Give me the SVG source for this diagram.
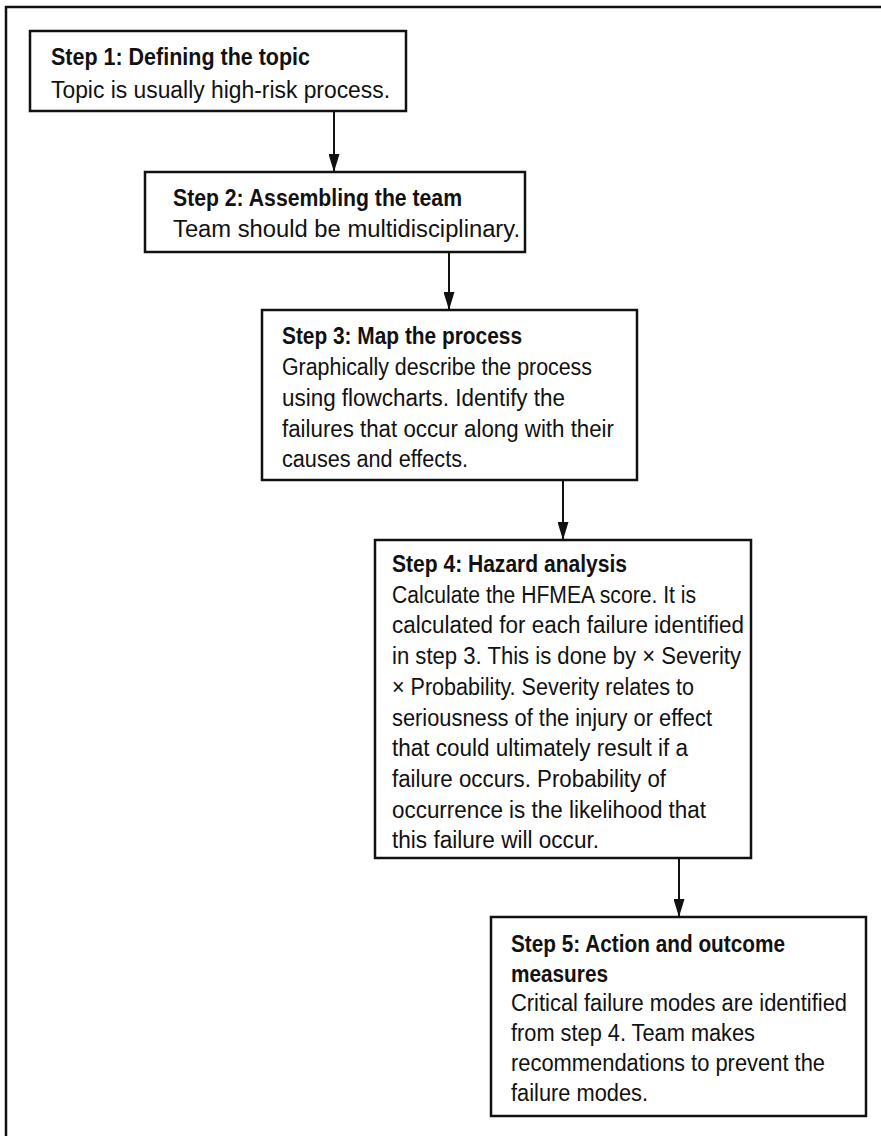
<svg xmlns="http://www.w3.org/2000/svg" width="881" height="1136" viewBox="0 0 881 1136">
<style>
.box{fill:#fff;stroke:#111;stroke-width:2.5}
.frame{fill:none;stroke:#111;stroke-width:2.5}
.t{font-family:"Liberation Sans Narrow","Liberation Sans",Arial,sans-serif;font-size:23.5px;font-weight:bold;fill:#111}
.b{font-family:"Liberation Sans Narrow","Liberation Sans",Arial,sans-serif;font-size:23.5px;fill:#111}
.conn{fill:none;stroke:#111;stroke-width:2}
</style>
<defs>
<marker id="ah" viewBox="0 0 18 11" refX="18" refY="5.5" markerWidth="18" markerHeight="11" markerUnits="userSpaceOnUse" orient="auto">
<path d="M0,0 L18,5.5 L0,11 z" fill="#111"/>
</marker>
</defs>
<rect width="881" height="1136" fill="#fff"/>
<path class="frame" d="M6,1136 L6,7 L881,7"/>
<g id="connectors">
<line class="conn" x1="334" y1="111" x2="334" y2="172" marker-end="url(#ah)"/>
<line class="conn" x1="449" y1="252" x2="449" y2="310" marker-end="url(#ah)"/>
<line class="conn" x1="563" y1="480" x2="563" y2="540" marker-end="url(#ah)"/>
<line class="conn" x1="679" y1="858" x2="679" y2="917" marker-end="url(#ah)"/>
</g>
<g id="step1">
<rect class="box" x="30" y="31" width="376" height="80"/>
<text class="t" x="51" y="65" textLength="259" lengthAdjust="spacingAndGlyphs">Step 1: Defining the topic</text>
<text class="b" x="51" y="98" textLength="339" lengthAdjust="spacingAndGlyphs">Topic is usually high-risk process.</text>
</g>
<g id="step2">
<rect class="box" x="145" y="172" width="380" height="80"/>
<text class="t" x="173" y="206" textLength="289" lengthAdjust="spacingAndGlyphs">Step 2: Assembling the team</text>
<text class="b" x="173" y="237" textLength="347" lengthAdjust="spacingAndGlyphs">Team should be multidisciplinary.</text>
</g>
<g id="step3">
<rect class="box" x="262" y="310" width="375" height="170"/>
<text class="t" x="282" y="344" textLength="240" lengthAdjust="spacingAndGlyphs">Step 3: Map the process</text>
<text class="b" x="282" y="375" textLength="310" lengthAdjust="spacingAndGlyphs">Graphically describe the process</text>
<text class="b" x="282" y="406" textLength="283" lengthAdjust="spacingAndGlyphs">using flowcharts. Identify the</text>
<text class="b" x="282" y="437" textLength="332" lengthAdjust="spacingAndGlyphs">failures that occur along with their</text>
<text class="b" x="282" y="467" textLength="186" lengthAdjust="spacingAndGlyphs">causes and effects.</text>
</g>
<g id="step4">
<rect class="box" x="375" y="540" width="376" height="318"/>
<text class="t" x="392" y="572" textLength="235" lengthAdjust="spacingAndGlyphs">Step 4: Hazard analysis</text>
<text class="b" x="392" y="602.7" textLength="304" lengthAdjust="spacingAndGlyphs">Calculate the HFMEA score. It is</text>
<text class="b" x="392" y="633.4" textLength="352" lengthAdjust="spacingAndGlyphs">calculated for each failure identified</text>
<text class="b" x="392" y="664.1" textLength="349" lengthAdjust="spacingAndGlyphs">in step 3. This is done by × Severity</text>
<text class="b" x="392" y="694.8" textLength="302" lengthAdjust="spacingAndGlyphs">× Probability. Severity relates to</text>
<text class="b" x="392" y="725.5" textLength="320" lengthAdjust="spacingAndGlyphs">seriousness of the injury or effect</text>
<text class="b" x="392" y="756.2" textLength="296" lengthAdjust="spacingAndGlyphs">that could ultimately result if a</text>
<text class="b" x="392" y="786.9" textLength="274" lengthAdjust="spacingAndGlyphs">failure occurs. Probability of</text>
<text class="b" x="392" y="817.6" textLength="314" lengthAdjust="spacingAndGlyphs">occurrence is the likelihood that</text>
<text class="b" x="392" y="848.3" textLength="207" lengthAdjust="spacingAndGlyphs">this failure will occur.</text>
</g>
<g id="step5">
<rect class="box" x="491" y="917" width="375" height="199"/>
<text class="t" x="511" y="952" textLength="274" lengthAdjust="spacingAndGlyphs">Step 5: Action and outcome</text>
<text class="t" x="511" y="981.7" textLength="97" lengthAdjust="spacingAndGlyphs">measures</text>
<text class="b" x="511" y="1011.4" textLength="336" lengthAdjust="spacingAndGlyphs">Critical failure modes are identified</text>
<text class="b" x="511" y="1041.1" textLength="244" lengthAdjust="spacingAndGlyphs">from step 4. Team makes</text>
<text class="b" x="511" y="1070.8" textLength="314" lengthAdjust="spacingAndGlyphs">recommendations to prevent the</text>
<text class="b" x="511" y="1100.5" textLength="137" lengthAdjust="spacingAndGlyphs">failure modes.</text>
</g>
</svg>
